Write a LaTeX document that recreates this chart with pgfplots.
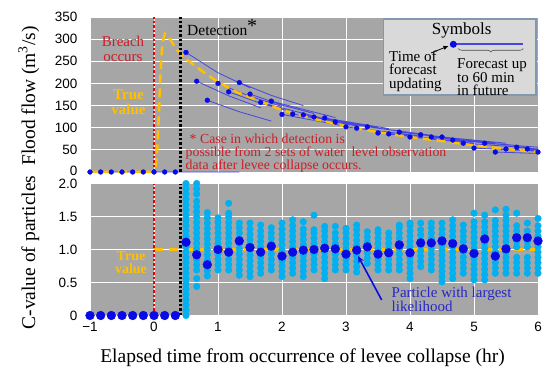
\documentclass[border=0pt]{standalone}
\usepackage{pgfplots}
\pgfplotsset{compat=1.18}
\usepackage{fontspec}
\setmainfont{Liberation Serif}
\setsansfont{Liberation Sans}
\usetikzlibrary{decorations.pathreplacing,arrows.meta}
\definecolor{bggray}{RGB}{166,166,166}
\definecolor{lblue}{RGB}{0,176,240}
\definecolor{dblue}{RGB}{10,10,230}
\definecolor{fcblue}{RGB}{70,70,225}
\definecolor{yel}{RGB}{255,192,0}
\definecolor{redl}{RGB}{235,0,0}
\definecolor{redt}{RGB}{205,30,40}
\definecolor{legborder}{RGB}{132,151,176}
\definecolor{legfill}{RGB}{217,217,217}
\definecolor{txtblue}{RGB}{40,40,200}
\pgfplotsset{
  panel/.style={
    scale only axis, width=448pt, xmin=-1, xmax=6,
    axis background/.style={fill=bggray},
    grid=major, grid style={white, line width=0.9pt},
    axis line style={draw=none}, tick style={draw=none},
    /pgf/number format/assume math mode=true,
    ticklabel style={font=\sffamily\fontsize{13.5}{13.5}\selectfont},
    yticklabel style={xshift=-9pt},
    clip=false, xtick={-1,0,...,6}
  },
  dotline/.style={line width=2.8pt, dash pattern=on 2.5pt off 2pt}
}
\begin{document}
\begin{tikzpicture}
\path[use as bounding box] (0pt,0pt) rectangle (546pt,367pt);

% ---------------- top panel ----------------
\begin{axis}[panel, at={(90pt,195pt)}, anchor=south west, height=155pt,
  ymin=0, ymax=350, ytick={0,50,...,350},
  yticklabels={\raisebox{2pt}{0},50,100,150,200,250,300,350}, xticklabels={}]
% forecast lines
\addplot[fcblue, line width=0.8pt, unbounded coords=jump] table[row sep=\\] {
x y\\
-1 0\\ 1.333 0\\ nan nan\\
0.5 270\\ 1.0 224\\ 1.5 190\\ nan nan\\
0.667 205\\ 1.167 172\\ 1.667 145\\ nan nan\\
0.833 162\\ 1.333 136\\ 1.833 115\\ nan nan\\
1.0 200\\ 1.5 171\\ 2.0 148\\ nan nan\\
1.167 181\\ 1.667 155\\ 2.167 135\\ nan nan\\
1.333 202\\ 1.833 173\\ 2.333 150\\ nan nan\\
1.5 176\\ 2.0 151\\ 2.5 132\\ nan nan\\
1.667 157\\ 2.667 120\\ nan nan\\
1.833 160\\ 2.833 123\\ nan nan\\
2.0 130\\ 3.0 103\\ nan nan\\
2.167 131\\ 3.167 104\\ nan nan\\
2.333 129\\ 3.333 103\\ nan nan\\
2.5 124\\ 3.5 100\\ nan nan\\
2.667 122\\ 3.667 98\\ nan nan\\
2.833 113\\ 3.833 92\\ nan nan\\
3.0 102\\ 4.0 83\\ nan nan\\
3.167 99\\ 4.167 81\\ nan nan\\
3.333 102\\ 4.333 83\\ nan nan\\
3.5 88\\ 4.5 73\\ nan nan\\
3.667 86\\ 4.667 71\\ nan nan\\
3.833 90\\ 4.833 74\\ nan nan\\
4.0 79\\ 5.0 65\\ nan nan\\
4.167 84\\ 5.167 69\\ nan nan\\
4.333 79\\ 5.333 65\\ nan nan\\
4.5 79\\ 5.5 65\\ nan nan\\
4.667 72\\ 5.667 60\\ nan nan\\
4.833 65\\ 5.833 55\\ nan nan\\
5.0 54\\ 6.0 47\\ nan nan\\
5.167 65\\ 6.0 56\\ nan nan\\
5.333 45\\ 6.0 42\\ nan nan\\
5.5 52\\ 6.0 48\\ nan nan\\
5.667 56\\ 6.0 52\\ nan nan\\
5.833 52\\ 6.0 50\\
};
% true value
\addplot[yel, line width=2.5pt, dash pattern=on 9pt off 5pt] coordinates {
(-1,0)(0.02,0)(0.05,50)(0.08,140)(0.1,220)(0.13,290)(0.17,312)(0.25,300)
(0.35,277)(0.5,255)(0.75,228)(1.0,203)(1.3,180)(1.6,163)(2.0,140)(2.5,120)
(3.0,103)(3.5,90)(4.0,79)(4.5,70)(5.0,60)(5.5,52)(6.0,45)};
% forecast update points
\addplot[only marks, mark=*, mark size=2.4pt, dblue] coordinates {
(-1,0)(-0.833,0)(-0.667,0)(-0.5,0)(-0.333,0)(-0.167,0)(0,0)(0.167,0)(0.333,0)
(0.5,270)(0.667,205)(0.833,162)(1.0,200)(1.167,181)(1.333,202)(1.5,176)
(1.667,157)(1.833,160)(2.0,130)(2.167,131)(2.333,129)(2.5,124)(2.667,122)
(2.833,113)(3.0,102)(3.167,99)(3.333,102)(3.5,88)(3.667,86)(3.833,90)
(4.0,79)(4.167,84)(4.333,79)(4.5,79)(4.667,72)(4.833,65)(5.0,54)(5.167,65)
(5.333,45)(5.5,52)(5.667,56)(5.833,52)(6.0,45)};
% breach and detection lines
\addplot[redl, dotline] coordinates {(0,0)(0,350)};
\addplot[black, dotline] coordinates {(0.42,0)(0.42,350)};
\end{axis}

% ---------------- bottom panel ----------------
\begin{axis}[panel, at={(90pt,51.5pt)}, anchor=south west, height=132pt,
  ymin=0, ymax=2, ytick={0,0.5,1,1.5,2}, yticklabels={0,0.5,1.0,1.5,\raisebox{-2pt}{2.0}},
  xticklabels={−1,0,1,2,3,4,5,6}, xticklabel style={yshift=-3pt}]
\addplot[only marks, mark=*, mark size=3.3pt, lblue, mark options={draw=lblue, fill=lblue}] coordinates {
(0.5,0)(0.5,.08)(0.5,.16)(0.5,.24)(0.5,.32)(0.5,.40)(0.5,.48)(0.5,.56)(0.5,.64)(0.5,.72)(0.5,.80)(0.5,.88)(0.5,.96)
(0.5,1.04)(0.5,1.12)(0.5,1.20)(0.5,1.28)(0.5,1.36)(0.5,1.44)(0.5,1.52)(0.5,1.60)(0.5,1.68)(0.5,1.76)(0.5,1.84)(0.5,1.92)(0.5,2.0)
(0.667,.44)(0.667,.56)(0.667,.69)(0.667,.77)(0.667,.85)(0.667,.93)(0.667,1.01)(0.667,1.09)(0.667,1.17)(0.667,1.25)
(0.667,1.33)(0.667,1.41)(0.667,1.49)(0.667,1.57)(0.667,1.65)(0.667,1.73)(0.667,1.84)(0.667,1.92)(0.667,2.0)
(0.833,.60)(0.833,.68)(0.833,.76)(0.833,.84)(0.833,.92)(0.833,1.0)(0.833,1.08)(0.833,1.16)(0.833,1.24)(0.833,1.32)(0.833,1.40)(0.833,1.48)(0.833,1.56)
(1.0,.69)(1.0,.77)(1.0,.85)(1.0,.93)(1.0,1.01)(1.0,1.09)(1.0,1.17)(1.0,1.25)(1.0,1.33)(1.0,1.41)(1.0,1.48)
(1.167,.69)(1.167,.77)(1.167,.85)(1.167,.93)(1.167,1.01)(1.167,1.09)(1.167,1.17)(1.167,1.25)(1.167,1.33)(1.167,1.41)(1.167,1.49)(1.167,1.55)(1.167,1.70)
(1.333,.61)(1.333,.69)(1.333,.77)(1.333,.85)(1.333,.93)(1.333,1.01)(1.333,1.09)(1.333,1.17)(1.333,1.25)(1.333,1.33)(1.333,1.40)
(1.5,.59)(1.5,.67)(1.5,.75)(1.5,.83)(1.5,.91)(1.5,.99)(1.5,1.07)(1.5,1.15)(1.5,1.23)(1.5,1.31)(1.5,1.40)
(1.667,.64)(1.667,.72)(1.667,.80)(1.667,.88)(1.667,.96)(1.667,1.04)(1.667,1.12)(1.667,1.20)(1.667,1.28)(1.667,1.37)
(1.833,.69)(1.833,.77)(1.833,.85)(1.833,.93)(1.833,1.01)(1.833,1.09)(1.833,1.17)(1.833,1.25)(1.833,1.33)
(2.0,.59)(2.0,.67)(2.0,.75)(2.0,.83)(2.0,.91)(2.0,.99)(2.0,1.07)(2.0,1.15)(2.0,1.23)(2.0,1.31)(2.0,1.40)
(2.167,.64)(2.167,.72)(2.167,.80)(2.167,.88)(2.167,.96)(2.167,1.04)(2.167,1.12)(2.167,1.20)(2.167,1.28)(2.167,1.36)(2.167,1.45)
(2.333,.59)(2.333,.67)(2.333,.75)(2.333,.83)(2.333,.91)(2.333,.99)(2.333,1.07)(2.333,1.15)(2.333,1.23)(2.333,1.31)(2.333,1.42)
(2.5,.69)(2.5,.77)(2.5,.85)(2.5,.93)(2.5,1.01)(2.5,1.09)(2.5,1.17)(2.5,1.25)(2.5,1.30)(2.5,1.52)
(2.667,.56)(2.667,.64)(2.667,.72)(2.667,.80)(2.667,.88)(2.667,.96)(2.667,1.04)(2.667,1.12)(2.667,1.20)(2.667,1.28)(2.667,1.35)
(2.833,.69)(2.833,.77)(2.833,.85)(2.833,.93)(2.833,1.01)(2.833,1.09)(2.833,1.17)(2.833,1.25)(2.833,1.35)
(3.0,.69)(3.0,.77)(3.0,.85)(3.0,.93)(3.0,1.01)(3.0,1.09)(3.0,1.17)(3.0,1.25)(3.0,1.32)
(3.167,.66)(3.167,.74)(3.167,.82)(3.167,.90)(3.167,.98)(3.167,1.06)(3.167,1.14)(3.167,1.22)(3.167,1.30)(3.167,1.37)
(3.333,.79)(3.333,.87)(3.333,.95)(3.333,1.03)(3.333,1.11)(3.333,1.19)(3.333,1.27)
(3.5,.69)(3.5,.77)(3.5,.85)(3.5,.93)(3.5,1.01)(3.5,1.09)(3.5,1.17)(3.5,1.25)(3.5,1.30)
(3.667,.69)(3.667,.77)(3.667,.85)(3.667,.93)(3.667,1.01)(3.667,1.09)(3.667,1.17)(3.667,1.25)
(3.833,.69)(3.833,.77)(3.833,.85)(3.833,.93)(3.833,1.01)(3.833,1.09)(3.833,1.17)(3.833,1.25)(3.833,1.33)(3.833,1.37)
(4.0,.56)(4.0,.64)(4.0,.72)(4.0,.80)(4.0,.88)(4.0,.96)(4.0,1.04)(4.0,1.12)(4.0,1.20)(4.0,1.28)(4.0,1.36)(4.0,1.40)
(4.167,.74)(4.167,.82)(4.167,.90)(4.167,.98)(4.167,1.06)(4.167,1.14)(4.167,1.22)(4.167,1.30)(4.167,1.40)
(4.333,.69)(4.333,.77)(4.333,.85)(4.333,.93)(4.333,1.01)(4.333,1.09)(4.333,1.17)(4.333,1.25)(4.333,1.33)(4.333,1.40)
(4.5,.51)(4.5,.59)(4.5,.67)(4.5,.75)(4.5,.83)(4.5,.91)(4.5,.99)(4.5,1.07)(4.5,1.15)(4.5,1.23)(4.5,1.31)(4.5,1.40)
(4.667,.56)(4.667,.64)(4.667,.72)(4.667,.80)(4.667,.88)(4.667,.96)(4.667,1.04)(4.667,1.12)(4.667,1.20)(4.667,1.28)(4.667,1.36)(4.667,1.45)
(4.833,.64)(4.833,.72)(4.833,.80)(4.833,.88)(4.833,.96)(4.833,1.04)(4.833,1.12)(4.833,1.20)(4.833,1.28)(4.833,1.37)
(5.0,.54)(5.0,.62)(5.0,.70)(5.0,.78)(5.0,.86)(5.0,.94)(5.0,1.02)(5.0,1.10)(5.0,1.18)(5.0,1.26)(5.0,1.34)(5.0,1.42)(5.0,1.55)
(5.167,.54)(5.167,.62)(5.167,.70)(5.167,.78)(5.167,.86)(5.167,.94)(5.167,1.02)(5.167,1.10)(5.167,1.18)(5.167,1.26)(5.167,1.34)(5.167,1.42)(5.167,1.52)
(5.333,.64)(5.333,.72)(5.333,.80)(5.333,.88)(5.333,.96)(5.333,1.04)(5.333,1.12)(5.333,1.20)(5.333,1.28)(5.333,1.36)(5.333,1.44)(5.333,1.60)
(5.5,.64)(5.5,.72)(5.5,.80)(5.5,.88)(5.5,.96)(5.5,1.04)(5.5,1.12)(5.5,1.20)(5.5,1.28)(5.5,1.36)(5.5,1.44)(5.5,1.52)(5.5,1.61)
(5.667,.64)(5.667,.72)(5.667,.80)(5.667,.88)(5.667,1.04)(5.667,1.12)(5.667,1.20)(5.667,1.28)(5.667,1.36)(5.667,1.55)
(5.833,.64)(5.833,.72)(5.833,.80)(5.833,.88)(5.833,1.04)(5.833,1.12)(5.833,1.20)(5.833,1.28)(5.833,1.40)
(6.0,.64)(6.0,.72)(6.0,.80)(6.0,.88)(6.0,.96)(6.0,1.04)(6.0,1.12)(6.0,1.20)(6.0,1.28)(6.0,1.36)(6.0,1.47)};
% largest likelihood
\addplot[only marks, mark=*, mark size=4.4pt, dblue] coordinates {
(-1,0)(-0.833,0)(-0.667,0)(-0.5,0)(-0.333,0)(-0.167,0)(0,0)(0.167,0)(0.333,0)
(0.5,1.11)(0.667,0.92)(0.833,0.77)(1.0,1.0)(1.167,0.96)(1.333,1.13)(1.5,1.03)
(1.667,0.96)(1.833,1.05)(2.0,0.90)(2.167,0.96)(2.333,0.99)(2.5,1.0)(2.667,1.02)
(2.833,1.01)(3.0,0.93)(3.167,0.99)(3.333,1.04)(3.5,0.93)(3.667,0.95)(3.833,1.07)
(4.0,0.95)(4.167,1.10)(4.333,1.10)(4.5,1.13)(4.667,1.09)(4.833,1.01)(5.0,0.94)
(5.167,1.16)(5.333,0.90)(5.5,1.01)(5.667,1.18)(5.833,1.18)(6.0,1.13)};
% true value
\addplot[yel, line width=2.2pt, dash pattern=on 9pt off 6pt] coordinates {(0,1)(6,1)};
\addplot[redl, dotline] coordinates {(0,0)(0,2)};
\addplot[black, dotline] coordinates {(0.42,0)(0.42,2)};
\end{axis}

% ---------------- annotations ----------------
\node[rotate=90, anchor=base] at (35pt,271pt) {\fontsize{19.5}{19.5}\selectfont Flood flow (m\textsuperscript{3}/s)};
\node[rotate=90, anchor=base] at (35pt,114.5pt) {\fontsize{19.5}{19.5}\selectfont C-value of particles};
\node[anchor=base] at (302.5pt,5pt) {\fontsize{19.5}{19.5}\selectfont Elapsed time from occurrence of levee collapse (hr)};

\node[align=center, text=redt, font=\fontsize{15}{15}\selectfont] at (123pt,318pt) {Breach\\occurs};
\node[align=center, text=yel, font=\fontsize{15}{15.5}\selectfont\bfseries] at (128.5pt,265pt) {True\\value};
\node[anchor=west, inner sep=0pt, font=\fontsize{15.5}{15.5}\selectfont] at (187pt,337pt) {Detection};
\node[inner sep=0pt, font=\fontsize{20}{20}\selectfont] at (252pt,341pt) {*};
\node[anchor=north west, align=left, inner sep=0pt, text=redt, font=\fontsize{13.8}{13}\selectfont] at (185.5pt,233.5pt)
  {\hspace{4pt}* Case in which detection is\\possible from 2 sets of water\ \ level observation\\data after levee collapse occurs.};

\node[align=center, text=yel, font=\fontsize{14}{13}\selectfont\bfseries] at (131pt,104.5pt) {True\\value};
\node[anchor=north west, align=left, inner sep=0pt, text=txtblue, font=\fontsize{15}{12.5}\selectfont] at (391.5pt,80.5pt)
  {Particle with largest\\likelihood};
\draw[dblue, line width=1.6pt, -{Stealth[length=7pt,width=6pt]}] (381.7pt,67pt) -- (358pt,111pt);

% legend box
\draw[legborder, line width=1.6pt, fill=legfill] (383.5pt,272pt) rectangle (536pt,348pt);
\node[font=\fontsize{17}{17}\selectfont] at (461.7pt,337pt) {Symbols};
\draw[fcblue, line width=2pt] (453.3pt,322.7pt) -- (523.3pt,322.7pt);
\node[circle, fill=dblue, inner sep=0pt, minimum size=7pt] at (453.3pt,322.7pt) {};
\draw[black, line width=0.8pt, -{Latex[length=5pt,width=4.5pt]}] (431pt,314pt) -- (448.5pt,321pt);
\draw[black!70, line width=0.6pt, decorate, decoration={brace, amplitude=3.5pt}] (523.3pt,318.5pt) -- (458.3pt,318.5pt);
\node[anchor=north west, align=left, inner sep=0pt, font=\fontsize{15}{13.5}\selectfont] at (389pt,316.5pt)
  {Time of\\forecast\\updating};
\node[anchor=north west, align=left, inner sep=0pt, font=\fontsize{15}{13.5}\selectfont] at (457pt,308.5pt)
  {Forecast up\\to 60 min\\in future};
\end{tikzpicture}
\end{document}
